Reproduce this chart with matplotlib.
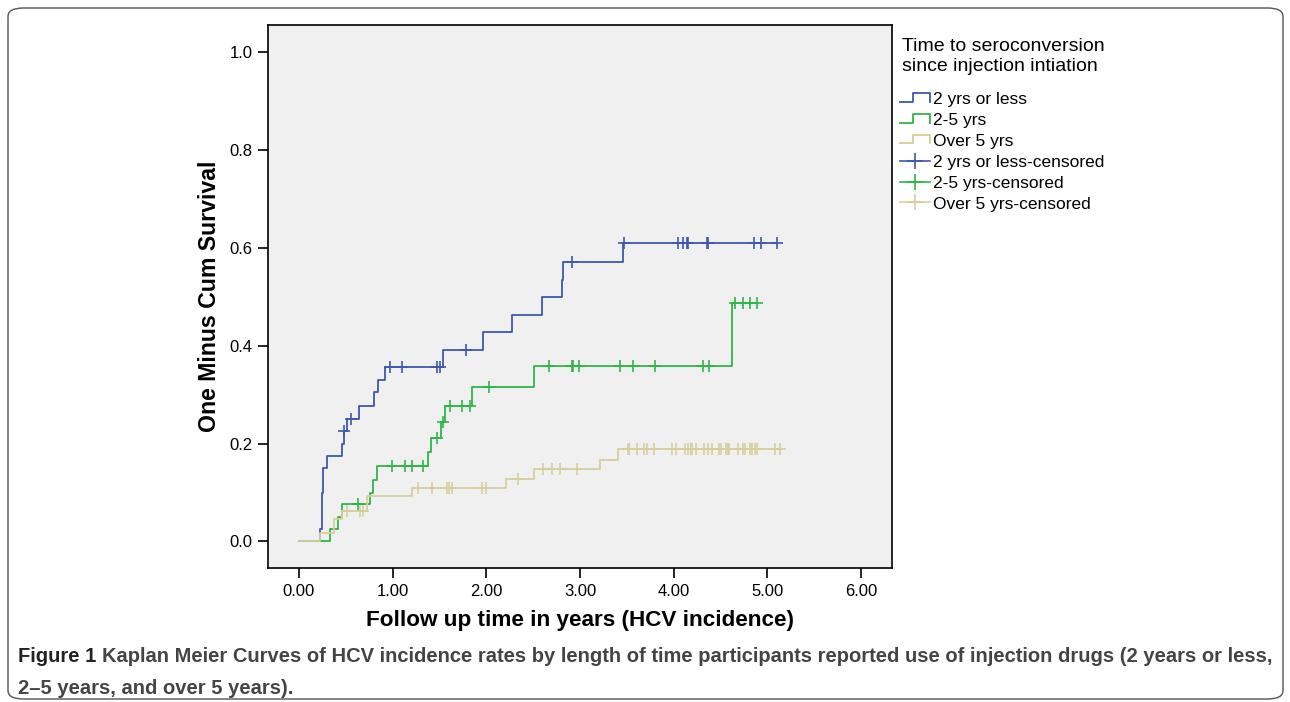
import numpy as np
import matplotlib
matplotlib.use('Agg')
import matplotlib.pyplot as plt
from matplotlib.lines import Line2D
from matplotlib.patches import FancyBboxPatch
from matplotlib.legend_handler import HandlerBase

plt.rcParams['font.family'] = ['Liberation Sans', 'DejaVu Sans']

# event times (years) and 1 - cumulative survival after each event
blue_t = [0, 0.224, 0.242, 0.259, 0.296, 0.459, 0.484, 0.509, 0.641, 0.801, 0.840, 0.921,
          1.534, 1.961, 2.271, 2.594, 2.808, 2.815, 3.459]
blue_v = [0, 0.025, 0.098, 0.150, 0.175, 0.200, 0.226, 0.251, 0.277, 0.305, 0.330, 0.357,
          0.391, 0.427, 0.463, 0.500, 0.534, 0.571, 0.609]
blue_cens = [0.484, 0.552, 0.971, 1.103, 1.470, 1.505, 1.780, 2.911, 3.466, 4.046, 4.096,
             4.139, 4.156, 4.352, 4.370, 4.858, 4.935, 5.100]

green_t = [0, 0.331, 0.420, 0.462, 0.758, 0.790, 0.836, 1.374, 1.409, 1.516, 1.562, 1.844,
           2.512, 4.619]
green_v = [0, 0.025, 0.050, 0.076, 0.099, 0.125, 0.153, 0.182, 0.212, 0.244, 0.277, 0.316,
           0.359, 0.488]
green_cens = [0.633, 0.996, 1.132, 1.210, 1.321, 1.476, 1.534, 1.612, 1.743, 1.826, 2.025,
              2.666, 2.911, 2.922, 2.986, 3.427, 3.563, 3.801, 4.310, 4.380, 4.655, 4.737,
              4.815, 4.886]

tan_t = [0, 0.224, 0.377, 0.462, 0.729, 1.206, 2.205, 2.506, 3.213, 3.409]
tan_v = [0, 0.016, 0.045, 0.061, 0.093, 0.109, 0.127, 0.147, 0.166, 0.188]
tan_cens = [0.509, 0.651, 0.686, 1.267, 1.417, 1.577, 1.601, 1.630, 1.957, 1.993, 2.341,
            2.608, 2.698, 2.786, 2.965, 3.509, 3.523, 3.605, 3.683, 3.718, 3.790, 3.979,
            4.022, 4.121, 4.156, 4.185, 4.196, 4.238, 4.324, 4.370, 4.412, 4.484, 4.506,
            4.555, 4.577, 4.594, 4.690, 4.737, 4.765, 4.815, 4.833, 4.868, 4.893, 5.082,
            5.135]

groups = ['2 yrs or less', '2-5 yrs', 'Over 5 yrs']
colors = ['#3e58ac', '#2fb548', '#d6cf9b']
xticks = [0, 1, 2, 3, 4, 5, 6]
yticks = [0.0, 0.2, 0.4, 0.6, 0.8, 1.0]
caption_head = 'Figure 1'
caption_line1 = ('Kaplan Meier Curves of HCV incidence rates by length of time participants '
                 'reported use of injection drugs (2 years or less,')
caption_line2 = '2\u20135 years, and over 5 years).'


class StepHandler(HandlerBase):
    # little step glyph like the SPSS legend
    def create_artists(self, legend, orig_handle, xdescent, ydescent, width, height,
                       fontsize, trans):
        x = np.array([0, 0.45, 0.45, 1, 1]) * width - xdescent
        y = np.array([0.2, 0.2, 0.9, 0.9, 0.2]) * height - ydescent
        line = Line2D(x, y, color=orig_handle.get_color(),
                      lw=orig_handle.get_linewidth(), transform=trans)
        return [line]


fig = plt.figure(figsize=(12.9, 7.02), dpi=100)
fig.patches.append(FancyBboxPatch((8 / 1290, 3 / 702), 1275 / 1290, 691 / 702,
                                  boxstyle='round,pad=0,rounding_size=0.012',
                                  transform=fig.transFigure, fill=False,
                                  edgecolor='#555555', lw=1.0))

ax = fig.add_axes([267.7 / 1290, 1 - 568.3 / 702, 624.6 / 1290, 543.3 / 702])
ax.set_facecolor('#f0f0f0')

data = [(blue_t, blue_v, blue_cens), (green_t, green_v, green_cens), (tan_t, tan_v, tan_cens)]
step_handles = []
cens_handles = []
for (t, v, c), col in zip(data, colors):
    t = np.array(t)
    v = np.array(v)
    c = np.array(c)
    tt = np.append(t, max(c[-1], t[-1]))
    vv = np.append(v, v[-1])
    h, = ax.step(tt, vv, where='post', color=col, lw=1.3)
    cy = v[np.searchsorted(t, c, side='right') - 1]
    ax.plot(c, cy, linestyle='none', marker='+', color=col, markersize=8,
            markeredgewidth=1.2)
    step_handles.append(h)
    cens_handles.append(Line2D([], [], color=col, lw=1.2, marker='+', markersize=11,
                               markeredgewidth=1.2))

ax.set_xlim(-0.334, 6.334)
ax.set_ylim(-0.0552, 1.0558)
ax.set_xticks(xticks)
ax.set_xticklabels(['%.2f' % x for x in xticks])
ax.set_yticks(yticks)
ax.set_yticklabels(['%.1f' % y for y in yticks])
ax.tick_params(direction='out', length=7, width=1.2, labelsize=12, pad=4)
for s in ax.spines.values():
    s.set_linewidth(1.2)

ax.set_xlabel('Follow up time in years (HCV incidence)', fontsize=16.2, fontweight='bold',
              labelpad=8)
ax.set_ylabel('One Minus Cum Survival', fontsize=16.7, fontweight='bold', labelpad=6)

# legend title drawn separately so the gap to the entries matches
fig.text(902 / 1290, 1 - 38 / 702, 'Time to seroconversion\nsince injection intiation',
         fontsize=14, ha='left', va='top', linespacing=1.25)
labels = groups + [g + '-censored' for g in groups]
fig.legend(step_handles + cens_handles, labels,
           loc='upper left', bbox_to_anchor=(900 / 1290, 1 - 92 / 702),
           frameon=False, fontsize=12.5, handlelength=1.7, handletextpad=0.2,
           labelspacing=0.33, borderpad=0, borderaxespad=0,
           handler_map={h: StepHandler() for h in step_handles})

# caption, first line justified to the border width
renderer = fig.canvas.get_renderer()
fs = 14
y1 = 1 - 657 / 702
t_head = fig.text(18 / 1290, y1, caption_head + ' ', fontsize=fs, fontweight='bold',
                  color='#222222', va='center', ha='left')
t_rest = fig.text(0, y1, caption_line1, fontsize=fs, fontweight='bold',
                  color='#444444', va='center', ha='left')
w = (t_head.get_window_extent(renderer).width + t_rest.get_window_extent(renderer).width)
fs = fs * 1257 / w
t_head.set_fontsize(fs)
t_rest.set_fontsize(fs)
w_head = t_head.get_window_extent(renderer).width
t_rest.set_x((18 + w_head) / 1290)
fig.text(18 / 1290, 1 - 689 / 702, caption_line2, fontsize=fs, fontweight='bold',
         color='#444444', va='center', ha='left')

fig.savefig('out.png', dpi=100, facecolor='white')
